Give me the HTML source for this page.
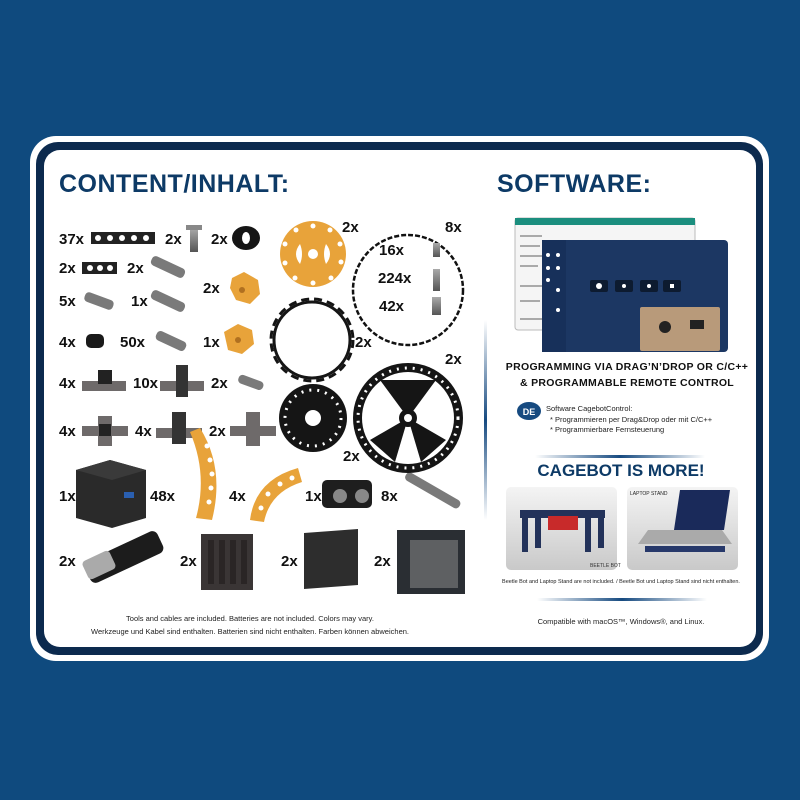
<!DOCTYPE html>
<html><head><meta charset="utf-8"><style>
html,body{margin:0;padding:0;background:#0f4a7e;}
svg{display:block}
text{font-family:"Liberation Sans",sans-serif;}
.q{font-weight:bold;font-size:15px;fill:#111;}
.h{font-weight:bold;fill:#0d3a66;}
</style></head><body>
<svg width="800" height="800" viewBox="0 0 800 800" xmlns="http://www.w3.org/2000/svg">
<defs>
<linearGradient id="ln" x1="0" x2="1"><stop offset="0" stop-color="#fff"/><stop offset="0.5" stop-color="#164a80"/><stop offset="1" stop-color="#fff"/></linearGradient>
<linearGradient id="vl" x1="0" y1="0" x2="0" y2="1"><stop offset="0" stop-color="#fff"/><stop offset="0.5" stop-color="#164a80"/><stop offset="1" stop-color="#fff"/></linearGradient>
<linearGradient id="gm" x1="0" y1="0" x2="0" y2="1"><stop offset="0" stop-color="#aaa"/><stop offset="1" stop-color="#555"/></linearGradient>
<linearGradient id="ph" x1="0" y1="0" x2="0" y2="1"><stop offset="0" stop-color="#f4f4f4"/><stop offset="1" stop-color="#c9c9c9"/></linearGradient>
</defs>
<rect width="800" height="800" fill="#0f4a7e"/>
<rect x="30" y="136" width="739" height="525" rx="26" fill="#fff"/>
<rect x="36" y="142" width="727" height="513" rx="22" fill="#0c2a4e"/>
<rect x="44" y="150" width="712" height="497" rx="16" fill="#fff"/>

<text class="h" x="59" y="192" font-size="25" letter-spacing="0.5">CONTENT/INHALT:</text>
<text class="h" x="497" y="192" font-size="25" letter-spacing="0.5">SOFTWARE:</text>
<rect x="484" y="320" width="3" height="200" fill="url(#vl)"/>

<g class="q">
<text class="q" x="59" y="244">37x</text>
<text class="q" x="165" y="244">2x</text>
<text class="q" x="211" y="244">2x</text>
<text class="q" x="59" y="273">2x</text>
<text class="q" x="127" y="273">2x</text>
<text class="q" x="203" y="293">2x</text>
<text class="q" x="59" y="306">5x</text>
<text class="q" x="131" y="306">1x</text>
<text class="q" x="59" y="347">4x</text>
<text class="q" x="120" y="347">50x</text>
<text class="q" x="203" y="347">1x</text>
<text class="q" x="59" y="388">4x</text>
<text class="q" x="133" y="388">10x</text>
<text class="q" x="211" y="388">2x</text>
<text class="q" x="59" y="436">4x</text>
<text class="q" x="135" y="436">4x</text>
<text class="q" x="209" y="436">2x</text>
<text class="q" x="342" y="232">2x</text>
<text class="q" x="445" y="232">8x</text>
<text class="q" x="379" y="255">16x</text>
<text class="q" x="378" y="283">224x</text>
<text class="q" x="379" y="311">42x</text>
<text class="q" x="355" y="347">2x</text>
<text class="q" x="445" y="364">2x</text>
<text class="q" x="343" y="461">2x</text>
<text class="q" x="59" y="501">1x</text>
<text class="q" x="150" y="501">48x</text>
<text class="q" x="229" y="501">4x</text>
<text class="q" x="305" y="501">1x</text>
<text class="q" x="381" y="501">8x</text>
<text class="q" x="59" y="566">2x</text>
<text class="q" x="180" y="566">2x</text>
<text class="q" x="281" y="566">2x</text>
<text class="q" x="374" y="566">2x</text>
</g>

<rect x="91" y="232" width="64" height="12" fill="#222"/>
<g fill="#fff"><circle cx="98" cy="238" r="3"/><circle cx="110" cy="238" r="3"/><circle cx="122" cy="238" r="3"/><circle cx="134" cy="238" r="3"/><circle cx="146" cy="238" r="3"/></g>
<rect x="82" y="262" width="35" height="12" fill="#222"/>
<g fill="#fff"><circle cx="90" cy="268" r="3"/><circle cx="100" cy="268" r="3"/><circle cx="110" cy="268" r="3"/></g>
<rect x="190" y="228" width="8" height="24" fill="url(#gm)"/><rect x="186" y="225" width="16" height="5" fill="#888"/>
<ellipse cx="246" cy="238" rx="14" ry="12" fill="#151515"/><ellipse cx="246" cy="238" rx="4" ry="6" fill="#fff"/>
<g fill="#7a7a7a">
<rect x="150" y="262" width="36" height="10" rx="4" transform="rotate(25 168 267)"/>
<rect x="84" y="296" width="30" height="10" rx="4" transform="rotate(20 99 301)"/>
<rect x="150" y="296" width="36" height="10" rx="4" transform="rotate(25 168 301)"/>
<rect x="155" y="336" width="32" height="10" rx="4" transform="rotate(25 171 341)"/>
<rect x="238" y="378" width="26" height="9" rx="4" transform="rotate(20 251 382)"/>
<rect x="402" y="486" width="62" height="9" rx="4" transform="rotate(30 433 490)"/>
</g>
<rect x="86" y="334" width="18" height="14" rx="5" fill="#1a1a1a"/>
<g fill="#6e6a6a">
<rect x="82" y="381" width="44" height="10"/><rect x="98" y="370" width="14" height="14" fill="#222"/>
<rect x="160" y="381" width="44" height="10"/><rect x="176" y="365" width="12" height="32" fill="#333"/>
<rect x="82" y="426" width="46" height="10"/><rect x="98" y="416" width="14" height="30"/><rect x="99" y="424" width="12" height="12" fill="#222"/>
<rect x="156" y="428" width="46" height="10"/><rect x="172" y="412" width="14" height="32" fill="#333"/>
<rect x="230" y="426" width="46" height="10"/><rect x="246" y="412" width="14" height="34"/>
</g>
<g fill="#e8a33a">
<path d="M232 278 l12 -6 l14 8 l2 14 l-10 10 l-14 -4 l-6 -12z"/>
<path d="M224 332 l14 -8 l14 6 l2 14 l-12 10 l-14 -4z"/>
</g>
<circle cx="242" cy="290" r="3" fill="#b07020"/><circle cx="238" cy="340" r="3" fill="#b07020"/>
<circle cx="313" cy="254" r="33" fill="#e8a33a"/>
<g fill="#fff"><circle cx="313" cy="254" r="5"/>
<circle cx="313" cy="226" r="2.5"/><circle cx="330" cy="230" r="2.5"/><circle cx="340" cy="244" r="2.5"/><circle cx="341" cy="262" r="2.5"/><circle cx="331" cy="278" r="2.5"/><circle cx="313" cy="283" r="2.5"/><circle cx="295" cy="278" r="2.5"/><circle cx="285" cy="263" r="2.5"/><circle cx="285" cy="244" r="2.5"/><circle cx="296" cy="230" r="2.5"/>
<path d="M300 244 q-8 10 0 20 q4 -10 0 -20z"/><path d="M326 244 q8 10 0 20 q-4 -10 0 -20z"/></g>
<path d="M190 432 l10 -4 q25 40 12 92 l-16 -2 q12 -44 -6 -86z" fill="#e8a33a"/>
<g fill="#fff"><circle cx="207" cy="446" r="2.5"/><circle cx="210" cy="460" r="2.5"/><circle cx="212" cy="474" r="2.5"/><circle cx="211" cy="488" r="2.5"/><circle cx="209" cy="502" r="2.5"/></g>
<path d="M250 520 q5 -40 48 -52 l4 14 q-32 10 -38 40z" fill="#e8a33a"/>
<g fill="#fff"><circle cx="261" cy="508" r="2.5"/><circle cx="268" cy="494" r="2.5"/><circle cx="280" cy="484" r="2.5"/><circle cx="292" cy="478" r="2.5"/></g>
<circle cx="408" cy="290" r="55" fill="none" stroke="#111" stroke-width="2.5" stroke-dasharray="5 2"/>
<circle cx="312" cy="340" r="38" fill="none" stroke="#151515" stroke-width="3"/>
<circle cx="312" cy="340" r="41" fill="none" stroke="#151515" stroke-width="3" stroke-dasharray="8 5"/>
<circle cx="313" cy="418" r="34" fill="#151515"/><circle cx="313" cy="418" r="8" fill="#fff"/>
<circle cx="313" cy="418" r="28" fill="none" stroke="#fff" stroke-width="3" stroke-dasharray="2 6"/>
<circle cx="408" cy="418" r="55" fill="#151515"/>
<circle cx="408" cy="418" r="46" fill="#fff"/>
<circle cx="408" cy="418" r="50" fill="none" stroke="#fff" stroke-width="3" stroke-dasharray="2 6"/>
<g fill="#151515"><path d="M408 418 L380 380 L436 380Z"/><path d="M408 418 L370 440 L395 462Z"/><path d="M408 418 L446 440 L421 462Z"/><circle cx="408" cy="418" r="9"/></g>
<circle cx="408" cy="418" r="4" fill="#fff"/>
<g fill="url(#gm)"><rect x="433" y="243" width="7" height="14"/><rect x="433" y="269" width="7" height="22"/><rect x="432" y="297" width="9" height="18"/></g>
<path d="M76 470 l34 -10 l36 10 v48 l-34 10 l-36 -10z" fill="#2a2a2a"/><path d="M76 470 l34 -10 l36 10 l-34 10z" fill="#3a3a3a"/>
<rect x="124" y="492" width="10" height="6" fill="#2a5fb0"/>
<rect x="322" y="480" width="50" height="28" rx="5" fill="#1e1e1e"/><circle cx="340" cy="496" r="7" fill="#888"/><circle cx="362" cy="496" r="7" fill="#888"/>
<rect x="84" y="545" width="80" height="24" rx="6" fill="#1c1c1c" transform="rotate(-25 124 557)"/>
<rect x="84" y="555" width="30" height="20" rx="4" fill="#aaa" transform="rotate(-25 99 565)"/>
<rect x="201" y="534" width="52" height="56" fill="#3a3535"/><g fill="#2a2525"><rect x="208" y="540" width="6" height="44"/><rect x="219" y="540" width="6" height="44"/><rect x="230" y="540" width="6" height="44"/><rect x="241" y="540" width="6" height="44"/></g>
<path d="M304 533 l54 -4 v56 l-54 4z" fill="#2d2d2d"/>
<rect x="397" y="530" width="68" height="64" fill="#2a2e33"/><rect x="410" y="540" width="48" height="48" fill="#fff"/>
<rect x="410" y="540" width="48" height="48" fill="#1a1d20" opacity="0.7"/>

<text x="250" y="621" font-size="7.5" text-anchor="middle" fill="#222">Tools and cables are included. Batteries are not included. Colors may vary.</text>
<text x="250" y="634" font-size="7.5" text-anchor="middle" fill="#222">Werkzeuge und Kabel sind enthalten. Batterien sind nicht enthalten. Farben können abweichen.</text>

<rect x="515" y="218" width="180" height="112" rx="3" fill="#f5f5f5" stroke="#bbb"/>
<rect x="515" y="218" width="180" height="7" fill="#1b8e7e"/>
<g fill="#aaa"><rect x="520" y="235" width="22" height="2"/><rect x="520" y="245" width="20" height="2"/><rect x="520" y="255" width="22" height="2"/><rect x="520" y="265" width="18" height="2"/><rect x="520" y="285" width="22" height="2"/><rect x="520" y="300" width="20" height="2"/><rect x="520" y="318" width="22" height="2"/></g>
<rect x="542" y="240" width="186" height="112" rx="4" fill="#1c3763"/>
<rect x="542" y="240" width="24" height="112" fill="#17305a"/>
<g fill="#fff"><circle cx="548" cy="255" r="2"/><circle cx="548" cy="268" r="2"/><circle cx="548" cy="280" r="2"/><circle cx="558" cy="255" r="2"/><circle cx="558" cy="268" r="2"/><circle cx="558" cy="290" r="2"/><circle cx="558" cy="310" r="2"/></g>
<g fill="#0d1b30"><rect x="590" y="280" width="18" height="12" rx="2"/><rect x="615" y="280" width="18" height="12" rx="2"/><rect x="640" y="280" width="18" height="12" rx="2"/><rect x="663" y="280" width="18" height="12" rx="2"/></g>
<g fill="#fff"><circle cx="599" cy="286" r="3"/><circle cx="624" cy="286" r="2"/><circle cx="649" cy="286" r="2"/><rect x="670" y="284" width="4" height="4"/></g>
<rect x="640" y="307" width="80" height="44" rx="2" fill="#b89a7a"/>
<circle cx="665" cy="327" r="6" fill="#222"/><rect x="690" y="320" width="14" height="9" fill="#222"/>

<text x="627" y="370" font-size="10.5" font-weight="bold" text-anchor="middle" fill="#111" letter-spacing="0.3">PROGRAMMING VIA DRAG’N’DROP OR C/C++</text>
<text x="627" y="386" font-size="10.5" font-weight="bold" text-anchor="middle" fill="#111" letter-spacing="0.3">&amp; PROGRAMMABLE REMOTE CONTROL</text>
<ellipse cx="529" cy="411" rx="12" ry="9" fill="#164a80"/>
<text x="529" y="415" font-size="9" font-weight="bold" text-anchor="middle" fill="#fff">DE</text>
<text x="546" y="411" font-size="7.5" fill="#222">Software CagebotControl:</text>
<text x="550" y="422" font-size="7.5" fill="#222">*  Programmieren per Drag&amp;Drop oder mit C/C++</text>
<text x="550" y="432" font-size="7.5" fill="#222">*  Programmierbare Fernsteuerung</text>
<rect x="535" y="455" width="170" height="3" fill="url(#ln)"/>
<text class="h" x="621" y="476" font-size="17" text-anchor="middle">CAGEBOT IS MORE!</text>
<rect x="506" y="487" width="111" height="83" rx="5" fill="url(#ph)"/>
<rect x="627" y="487" width="111" height="83" rx="5" fill="url(#ph)"/>
<g fill="#23325a"><rect x="520" y="510" width="85" height="8"/><rect x="522" y="518" width="6" height="34"/><rect x="535" y="518" width="6" height="30"/><rect x="585" y="518" width="6" height="34"/><rect x="598" y="518" width="6" height="30"/></g>
<rect x="548" y="516" width="30" height="14" fill="#c82a2a"/>
<text x="590" y="567" font-size="5" fill="#333">BEETLE BOT</text>
<text x="630" y="495" font-size="5" fill="#222">LAPTOP STAND</text>
<polygon points="680,490 730,490 724,530 674,530" fill="#1a2a5a"/>
<path d="M648 530 h74 l10 14 h-94z" fill="#aaa"/>
<rect x="645" y="546" width="80" height="6" fill="#26386a"/>
<text x="621" y="583" font-size="5.5" text-anchor="middle" fill="#222">Beetle Bot and Laptop Stand are not included. / Beetle Bot und Laptop Stand sind nicht enthalten.</text>
<rect x="537" y="598" width="170" height="3" fill="url(#ln)"/>
<text x="621" y="624" font-size="7.5" text-anchor="middle" fill="#222">Compatible with macOS™, Windows®, and Linux.</text>
</svg>
</body></html>
